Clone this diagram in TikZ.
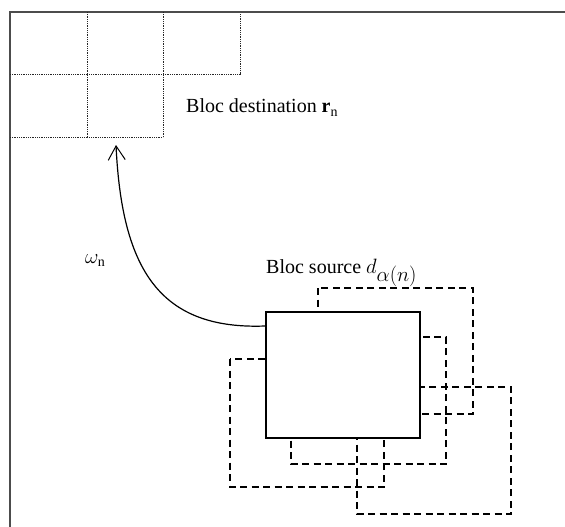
\documentclass[tikz,border=0pt]{standalone}
\usepackage{fontspec}
\setmainfont{Liberation Serif}
\usepackage{tikz}
\usetikzlibrary{arrows.meta,positioning}

\begin{document}
\begin{tikzpicture}[
  x=1pt, y=-1pt,
  frame/.style={draw=black!70, line width=1.8pt},
  cell/.style={draw=black!85, line width=1pt, dash pattern=on 1pt off 0.8pt},
  blocbox/.style={rectangle, draw=black, fill=white, line width=1.4pt,
                  minimum width=154pt, minimum height=126pt, inner sep=0pt},
  shifted/.style={draw=black, line width=1.3pt, dash pattern=on 7pt off 4.5pt},
  lbl/.style={inner sep=0pt, anchor=base west, font=\fontsize{20}{24}\selectfont},
  arr/.style={-{Straight Barb[length=14pt, width=17pt, line width=1pt]}, line width=1.2pt}
]
\useasboundingbox (0,0) rectangle (565,527);
% image frame (only top and left edges)
\draw[frame] (565,12) -- (10,12) -- (10,527);
% destination grid
\draw[cell] (10,75) -- (241,75);
\draw[cell] (10,137) -- (163,137);
\draw[cell] (87,12) -- (87,137);
\draw[cell] (163,12) -- (163,137);
\draw[cell] (240,14) -- (240,75);
% shifted copies of the source block
\draw[shifted] (318,288) rectangle (473,414);
\draw[shifted] (291,337) rectangle (446,464);
\draw[shifted] (230,359) rectangle (384,487);
\draw[shifted] (357,387) rectangle (511,514);
% source block on top
\node[blocbox] (src) at (343,375) {};
\coordinate (dst) at (116,145);
\node[lbl] (dstlbl) at (186,113) {Bloc destination $\mathbf{r}_{\mathrm{n}}$};
\node[lbl] (srclbl) at (266,273) {Bloc source $d_{\textstyle\alpha(n)}$};
\node[lbl] (wlbl) at (85,263) {$\omega_{\mathrm{n}}$};
\draw[arr] (src.west |- 0,326) .. controls (160,330) and (122,270) .. (dst);
\end{tikzpicture}
\end{document}
